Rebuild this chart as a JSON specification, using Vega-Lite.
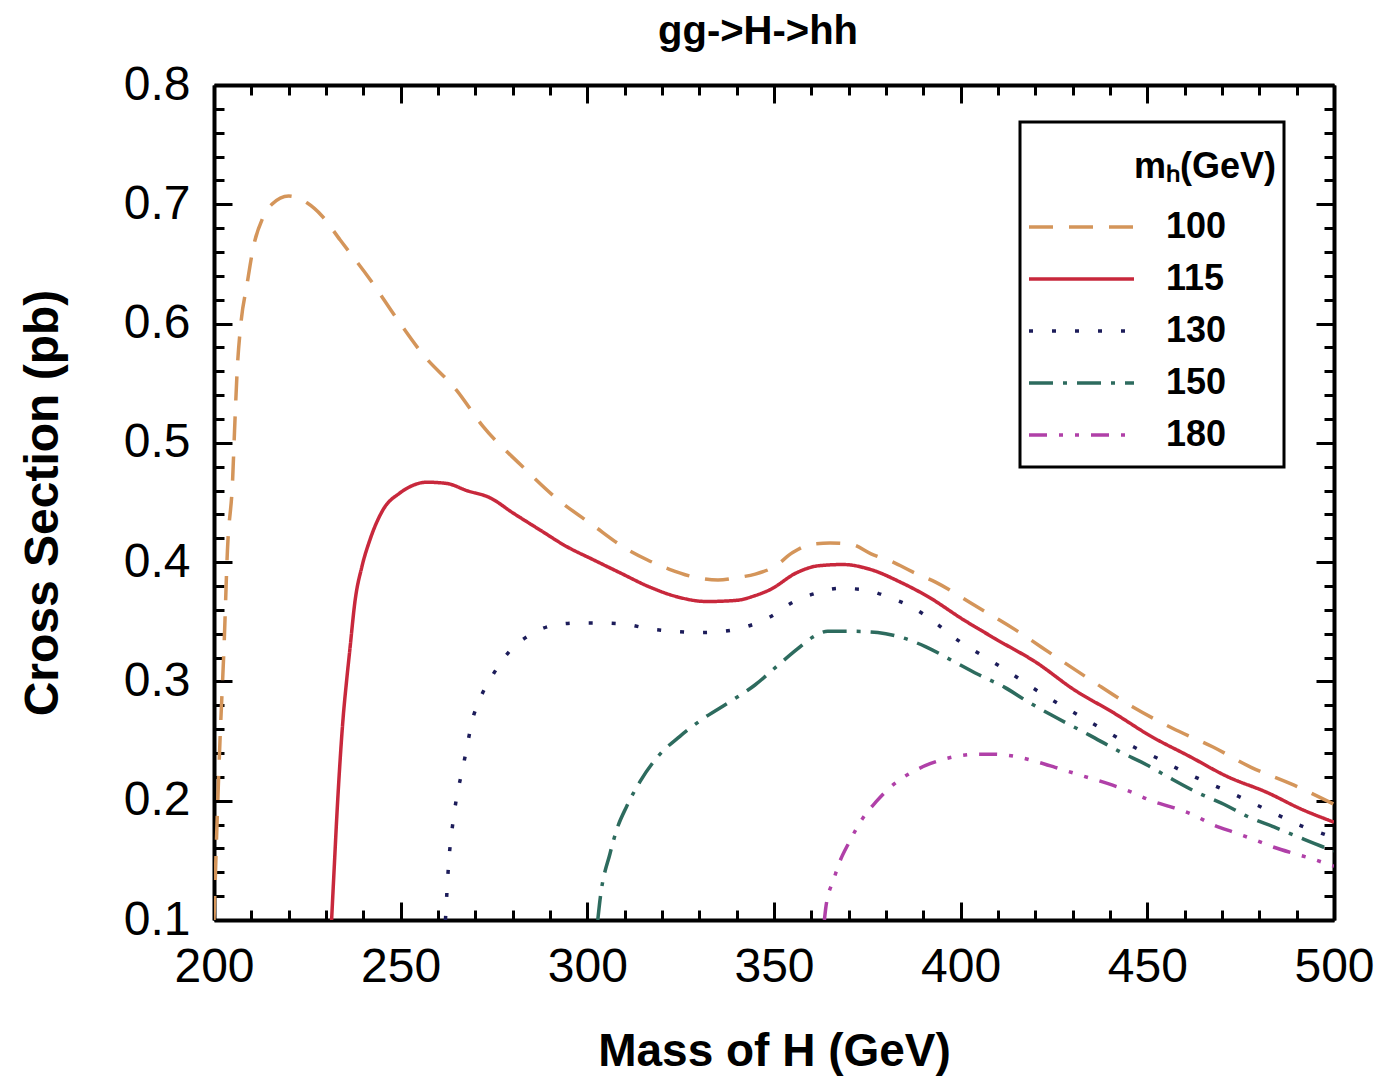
{
  "$schema": "https://vega.github.io/schema/vega-lite/v6.json",
  "width": 1120,
  "height": 835,
  "autosize": "none",
  "padding": {"left": 214, "top": 85, "right": 48, "bottom": 157},
  "background": "white",
  "title": {"text": "gg->H->hh", "font": "Liberation Sans", "fontSize": 40, "fontWeight": "bold", "color": "black", "frame": "group", "anchor": "middle", "offset": 9, "dx": -16},
  "data": {"values": [
    {"m":"100","x":200,"y":0.1},{"m":"100","x":200.3,"y":0.13},{"m":"100","x":200.8,"y":0.18},{"m":"100","x":201.6,"y":0.25},{"m":"100","x":202.7,"y":0.33},{"m":"100","x":203.6,"y":0.41},{"m":"100","x":205,"y":0.47},{"m":"100","x":205.5,"y":0.51},{"m":"100","x":206.2,"y":0.56},{"m":"100","x":207.2,"y":0.6},{"m":"100","x":208.8,"y":0.632},{"m":"100","x":210.6,"y":0.665},{"m":"100","x":213,"y":0.688},{"m":"100","x":215.5,"y":0.7},{"m":"100","x":220,"y":0.707},{"m":"100","x":225,"y":0.701},{"m":"100","x":229,"y":0.69},{"m":"100","x":233.8,"y":0.67},{"m":"100","x":241.8,"y":0.637},{"m":"100","x":249,"y":0.604},{"m":"100","x":256,"y":0.574},{"m":"100","x":265,"y":0.544},{"m":"100","x":272,"y":0.514},{"m":"100","x":282,"y":0.482},{"m":"100","x":291.9,"y":0.453},{"m":"100","x":301.5,"y":0.431},{"m":"100","x":310,"y":0.412},{"m":"100","x":316,"y":0.402},{"m":"100","x":322,"y":0.394},{"m":"100","x":329.4,"y":0.387},{"m":"100","x":335,"y":0.385},{"m":"100","x":340,"y":0.387},{"m":"100","x":345,"y":0.39},{"m":"100","x":350,"y":0.396},{"m":"100","x":355,"y":0.408},{"m":"100","x":360,"y":0.415},{"m":"100","x":365,"y":0.416},{"m":"100","x":370.6,"y":0.415},{"m":"100","x":376,"y":0.407},{"m":"100","x":381.9,"y":0.4},{"m":"100","x":387,"y":0.392},{"m":"100","x":393.4,"y":0.383},{"m":"100","x":403.6,"y":0.364},{"m":"100","x":414.8,"y":0.343},{"m":"100","x":425.3,"y":0.321},{"m":"100","x":435.4,"y":0.3},{"m":"100","x":445.9,"y":0.279},{"m":"100","x":456.6,"y":0.261},{"m":"100","x":467.6,"y":0.245},{"m":"100","x":477.8,"y":0.228},{"m":"100","x":489.3,"y":0.213},{"m":"100","x":500,"y":0.197},
    {"m":"115","x":231.5,"y":0.1},{"m":"115","x":232.3,"y":0.15},{"m":"115","x":232.9,"y":0.187},{"m":"115","x":233.7,"y":0.23},{"m":"115","x":234.6,"y":0.27},{"m":"115","x":235.5,"y":0.3},{"m":"115","x":236.4,"y":0.327},{"m":"115","x":237.8,"y":0.368},{"m":"115","x":239.6,"y":0.396},{"m":"115","x":241.8,"y":0.419},{"m":"115","x":245.3,"y":0.444},{"m":"115","x":249.8,"y":0.458},{"m":"115","x":253,"y":0.464},{"m":"115","x":257,"y":0.467},{"m":"115","x":262.3,"y":0.466},{"m":"115","x":267.7,"y":0.46},{"m":"115","x":273.9,"y":0.454},{"m":"115","x":280.2,"y":0.441},{"m":"115","x":287.3,"y":0.427},{"m":"115","x":294.5,"y":0.413},{"m":"115","x":301.6,"y":0.402},{"m":"115","x":308.8,"y":0.391},{"m":"115","x":316.8,"y":0.379},{"m":"115","x":324,"y":0.371},{"m":"115","x":332,"y":0.367},{"m":"115","x":340,"y":0.368},{"m":"115","x":345,"y":0.372},{"m":"115","x":349,"y":0.377},{"m":"115","x":356,"y":0.391},{"m":"115","x":362,"y":0.397},{"m":"115","x":368.5,"y":0.398},{"m":"115","x":375.7,"y":0.394},{"m":"115","x":384,"y":0.383},{"m":"115","x":391.3,"y":0.371},{"m":"115","x":400.6,"y":0.352},{"m":"115","x":409.7,"y":0.335},{"m":"115","x":420.2,"y":0.316},{"m":"115","x":430.4,"y":0.293},{"m":"115","x":440.8,"y":0.274},{"m":"115","x":451,"y":0.254},{"m":"115","x":461.4,"y":0.237},{"m":"115","x":471.6,"y":0.22},{"m":"115","x":482,"y":0.207},{"m":"115","x":491.2,"y":0.193},{"m":"115","x":500,"y":0.182},
    {"m":"130","x":262,"y":0.1},{"m":"130","x":262.8,"y":0.145},{"m":"130","x":264.1,"y":0.184},{"m":"130","x":265,"y":0.203},{"m":"130","x":266.4,"y":0.224},{"m":"130","x":267.7,"y":0.244},{"m":"130","x":269,"y":0.265},{"m":"130","x":271.2,"y":0.285},{"m":"130","x":274.4,"y":0.304},{"m":"130","x":278.8,"y":0.324},{"m":"130","x":284.6,"y":0.339},{"m":"130","x":290.9,"y":0.347},{"m":"130","x":297.6,"y":0.349},{"m":"130","x":303.9,"y":0.349},{"m":"130","x":310.1,"y":0.348},{"m":"130","x":316.8,"y":0.344},{"m":"130","x":323,"y":0.342},{"m":"130","x":330.2,"y":0.341},{"m":"130","x":336.4,"y":0.342},{"m":"130","x":342.7,"y":0.346},{"m":"130","x":348.9,"y":0.354},{"m":"130","x":354.8,"y":0.366},{"m":"130","x":361.3,"y":0.374},{"m":"130","x":367.4,"y":0.378},{"m":"130","x":374.1,"y":0.377},{"m":"130","x":380.3,"y":0.371},{"m":"130","x":387.1,"y":0.362},{"m":"130","x":393.3,"y":0.349},{"m":"130","x":399.5,"y":0.334},{"m":"130","x":406.2,"y":0.321},{"m":"130","x":412.9,"y":0.308},{"m":"130","x":419.1,"y":0.295},{"m":"130","x":425.3,"y":0.283},{"m":"130","x":432.5,"y":0.27},{"m":"130","x":439.7,"y":0.257},{"m":"130","x":446.4,"y":0.245},{"m":"130","x":453.1,"y":0.235},{"m":"130","x":459.3,"y":0.225},{"m":"130","x":465.5,"y":0.216},{"m":"130","x":472.1,"y":0.207},{"m":"130","x":478.9,"y":0.197},{"m":"130","x":485,"y":0.188},{"m":"130","x":491.2,"y":0.179},{"m":"130","x":497.3,"y":0.172},{"m":"130","x":500,"y":0.169},
    {"m":"150","x":302.8,"y":0.1},{"m":"150","x":303.4,"y":0.117},{"m":"150","x":306.1,"y":0.156},{"m":"150","x":307.9,"y":0.176},{"m":"150","x":310.5,"y":0.195},{"m":"150","x":314.1,"y":0.216},{"m":"150","x":318.6,"y":0.236},{"m":"150","x":324.8,"y":0.254},{"m":"150","x":331.1,"y":0.269},{"m":"150","x":338.2,"y":0.283},{"m":"150","x":344.9,"y":0.297},{"m":"150","x":350.5,"y":0.312},{"m":"150","x":356.2,"y":0.327},{"m":"150","x":360.3,"y":0.337},{"m":"150","x":364.4,"y":0.342},{"m":"150","x":371.6,"y":0.342},{"m":"150","x":377.8,"y":0.341},{"m":"150","x":384,"y":0.337},{"m":"150","x":390.7,"y":0.329},{"m":"150","x":397.4,"y":0.318},{"m":"150","x":404.6,"y":0.306},{"m":"150","x":411.8,"y":0.295},{"m":"150","x":418,"y":0.283},{"m":"150","x":424.2,"y":0.272},{"m":"150","x":434.5,"y":0.255},{"m":"150","x":442.7,"y":0.241},{"m":"150","x":449.9,"y":0.23},{"m":"150","x":456.1,"y":0.219},{"m":"150","x":463.3,"y":0.207},{"m":"150","x":470.5,"y":0.197},{"m":"150","x":476.7,"y":0.187},{"m":"150","x":483.9,"y":0.178},{"m":"150","x":490.1,"y":0.17},{"m":"150","x":497.3,"y":0.161},{"m":"150","x":500,"y":0.158},
    {"m":"180","x":363.5,"y":0.1},{"m":"180","x":363.9,"y":0.111},{"m":"180","x":366,"y":0.134},{"m":"180","x":367.5,"y":0.148},{"m":"180","x":370.1,"y":0.165},{"m":"180","x":373.7,"y":0.185},{"m":"180","x":377.3,"y":0.199},{"m":"180","x":381.4,"y":0.212},{"m":"180","x":387.6,"y":0.225},{"m":"180","x":391.8,"y":0.231},{"m":"180","x":398.5,"y":0.237},{"m":"180","x":404.6,"y":0.239},{"m":"180","x":408.7,"y":0.239},{"m":"180","x":414.8,"y":0.237},{"m":"180","x":421.1,"y":0.232},{"m":"180","x":425.3,"y":0.228},{"m":"180","x":432.5,"y":0.221},{"m":"180","x":440.7,"y":0.213},{"m":"180","x":445.9,"y":0.207},{"m":"180","x":451,"y":0.2},{"m":"180","x":457.2,"y":0.194},{"m":"180","x":462.4,"y":0.188},{"m":"180","x":467.5,"y":0.18},{"m":"180","x":473.7,"y":0.173},{"m":"180","x":478.9,"y":0.167},{"m":"180","x":483.9,"y":0.161},{"m":"180","x":490.1,"y":0.155},{"m":"180","x":494.4,"y":0.151},{"m":"180","x":500,"y":0.145}
  ]},
  "layer": [
    {
      "mark": {"type": "line", "strokeWidth": 3.5, "interpolate": "monotone", "clip": true},
      "encoding": {
        "x": {"field": "x", "type": "quantitative",
          "scale": {"domain": [200, 500], "nice": false, "zero": false},
          "axis": {"orient": "bottom", "values": [200,210,220,230,240,250,260,270,280,290,300,310,320,330,340,350,360,370,380,390,400,410,420,430,440,450,460,470,480,490,500],
            "title": "Mass of H (GeV)", "titleFont": "Liberation Sans", "titleFontSize": 46, "titleFontWeight": "bold", "titleColor": "black",
            "titleX": 560, "titleY": 145, "titleBaseline": "alphabetic", "titleAlign": "center",
            "labelExpr": "datum.value % 50 === 0 ? datum.label : ''",
            "labelFont": "Liberation Sans", "labelFontSize": 48, "labelColor": "black", "labelPadding": 41,
            "labelFlush": false, "labelOverlap": false, "labelBound": false,
            "tickSize": {"condition": {"test": "datum.value % 50 === 0", "value": -18}, "value": -10},
            "tickWidth": 3, "tickColor": "black", "domainColor": "black", "domainWidth": 4, "grid": false}},
        "y": {"field": "y", "type": "quantitative",
          "scale": {"domain": [0.1, 0.8], "nice": false, "zero": false},
          "axis": {"orient": "left", "values": [0.1,0.12,0.14,0.16,0.18,0.2,0.22,0.24,0.26,0.28,0.3,0.32,0.34,0.36,0.38,0.4,0.42,0.44,0.46,0.48,0.5,0.52,0.54,0.56,0.58,0.6,0.62,0.64,0.66,0.68,0.7,0.72,0.74,0.76,0.78,0.8],
            "format": ".1f",
            "title": "Cross Section (pb)", "titleFont": "Liberation Sans", "titleFontSize": 48, "titleFontWeight": "bold", "titleColor": "black",
            "titleX": -157, "titleY": 417.5, "titleBaseline": "alphabetic", "titleAlign": "center", "titleAngle": -90,
            "labelExpr": "abs(datum.value*10 - round(datum.value*10)) < 0.001 ? datum.label : ''",
            "labelFont": "Liberation Sans", "labelFontSize": 48, "labelColor": "black", "labelPadding": 42,
            "labelFlush": false, "labelOverlap": false, "labelBound": false,
            "tickSize": {"condition": {"test": "abs(datum.value*10 - round(datum.value*10)) < 0.001", "value": -18}, "value": -10},
            "tickWidth": 3, "tickColor": "black", "domainColor": "black", "domainWidth": 4, "grid": false}},
        "color": {"field": "m", "type": "nominal",
          "scale": {"domain": ["100","115","130","150","180"], "range": ["#D4955A","#C8283C","#1C1C5A","#2D6B5E","#B040A8"]},
          "legend": {"title": "mₕ(GeV)", "labelExpr": "datum.label + '     \u200b'", "orient": "none", "legendX": 806, "legendY": 37}},
        "strokeDash": {"field": "m", "type": "nominal",
          "scale": {"domain": ["100","115","130","150","180"], "range": [[24,16],[1,0],[4,19],[24,10,4,10],[18,12,4,12,4,12]]},
          "legend": {"title": "mₕ(GeV)", "labelExpr": "datum.label + '     \u200b'", "orient": "none", "legendX": 806, "legendY": 37}}
      }
    },
    {
      "mark": {"type": "line", "opacity": 0},
      "encoding": {
        "x": {"field": "x", "type": "quantitative",
          "scale": {"domain": [200, 500], "nice": false, "zero": false},
          "axis": {"orient": "top", "values": [200,210,220,230,240,250,260,270,280,290,300,310,320,330,340,350,360,370,380,390,400,410,420,430,440,450,460,470,480,490,500],
            "title": null, "labels": false,
            "tickSize": {"condition": {"test": "datum.value % 50 === 0", "value": -18}, "value": -10},
            "tickWidth": 3, "tickColor": "black", "domainColor": "black", "domainWidth": 4, "grid": false}},
        "y": {"field": "y", "type": "quantitative",
          "scale": {"domain": [0.1, 0.8], "nice": false, "zero": false},
          "axis": {"orient": "right", "values": [0.1,0.12,0.14,0.16,0.18,0.2,0.22,0.24,0.26,0.28,0.3,0.32,0.34,0.36,0.38,0.4,0.42,0.44,0.46,0.48,0.5,0.52,0.54,0.56,0.58,0.6,0.62,0.64,0.66,0.68,0.7,0.72,0.74,0.76,0.78,0.8],
            "title": null, "labels": false,
            "tickSize": {"condition": {"test": "abs(datum.value*10 - round(datum.value*10)) < 0.001", "value": -18}, "value": -10},
            "tickWidth": 3, "tickColor": "black", "domainColor": "black", "domainWidth": 4, "grid": false}},
        "detail": {"field": "m", "type": "nominal"}
      }
    }
  ],
  "resolve": {"axis": {"x": "independent", "y": "independent"}},
  "config": {
    "view": {"stroke": null},
    "legend": {
      "padding": 7,
      "strokeColor": "black",
      "strokeWidth": 3,
      "fillColor": "white",
      "titleFont": "Liberation Sans", "titleFontSize": 36, "titleFontWeight": "bold", "titleColor": "black",
      "titleAnchor": "end", "titleBaseline": "line-top", "titleLineHeight": 77, "titlePadding": 37, "titleLimit": 600,
      "labelFont": "Liberation Sans", "labelFontSize": 36, "labelFontWeight": "bold", "labelColor": "black",
      "labelOffset": 30, "labelLimit": 400,
      "symbolType": "stroke", "symbolSize": 11025, "symbolStrokeWidth": 3.5,
      "clipHeight": 50, "rowPadding": 2
    }
  }
}
